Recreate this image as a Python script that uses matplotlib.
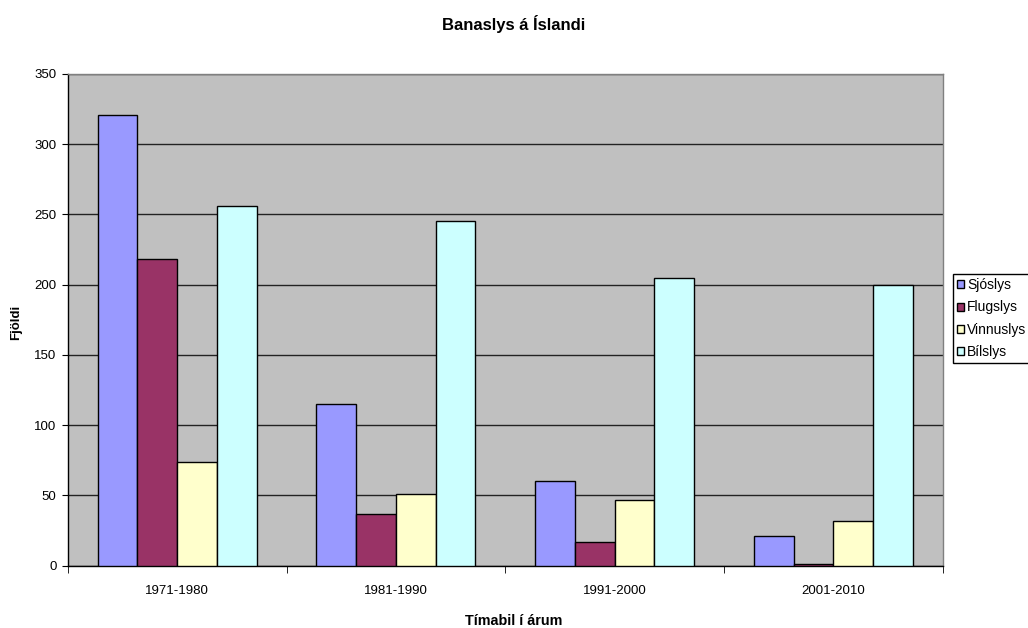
import numpy as np
import matplotlib
matplotlib.use("Agg")
import matplotlib.pyplot as plt

plt.rcParams['font.family'] = ['Liberation Sans', 'DejaVu Sans']

periods = ["1971-1980", "1981-1990", "1991-2000", "2001-2010"]
series_names = ["Sjóslys", "Flugslys", "Vinnuslys", "Bílslys"]
sjoslys = [321, 115, 60, 21]
flugslys = [218, 37, 17, 1]
vinnuslys = [74, 51, 47, 32]
bilslys = [256, 245, 205, 200]
colors = ["#9999FF", "#993366", "#FFFFCC", "#CCFFFF"]
y_ticks = [0, 50, 100, 150, 200, 250, 300, 350]

values = [sjoslys, flugslys, vinnuslys, bilslys]

fig = plt.figure(figsize=(10.28, 6.28), dpi=100)
ax = fig.add_axes([0.0659, 0.0992, 0.8512, 0.7830])
ax.set_facecolor("#C0C0C0")

n_groups = len(periods)
n_series = len(series_names)
bar_w = 1.0 / (n_series + 1.5)
x = np.arange(n_groups)

for i, (name, vals, col) in enumerate(zip(series_names, values, colors)):
    offs = (i - (n_series - 1) / 2) * bar_w
    ax.bar(x + offs, vals, width=bar_w, color=col, edgecolor="black",
           linewidth=1.0, label=name, zorder=3)

ax.set_xlim(-0.5, n_groups - 0.5)
ax.set_ylim(0, 350)
ax.set_yticks(y_ticks)
ax.yaxis.grid(True, color="#222222", linewidth=1.0, zorder=1)
ax.set_axisbelow(True)

# group labels at centres, tick marks at the group boundaries
ax.set_xticks(x)
ax.set_xticklabels(periods)
ax.tick_params(axis="x", which="major", length=0, pad=14, labelsize=9.5)
ax.set_xticks(np.arange(-0.5, n_groups, 1.0), minor=True)
ax.tick_params(axis="x", which="minor", length=5, direction="out", color="black")
ax.tick_params(axis="y", length=4, direction="out", labelsize=9.5, pad=4)

for side in ("left", "bottom"):
    ax.spines[side].set_color("black")
    ax.spines[side].set_linewidth(1.0)
for side in ("top", "right"):
    ax.spines[side].set_color("#808080")
    ax.spines[side].set_linewidth(1.0)

fig.text(0.5, 1 - 24 / 628, "Banaslys á Íslandi", ha="center", va="center",
         fontsize=12, fontweight="bold")
fig.text(0.5, 1 - 621 / 628, "Tímabil í árum", ha="center", va="center",
         fontsize=10.4, fontweight="bold")
fig.text(16 / 1028, 1 - 322 / 628, "Fjöldi", ha="center", va="center",
         rotation=90, fontsize=9.5, fontweight="bold")

leg = fig.legend(loc="upper left", bbox_to_anchor=(953 / 1028, 1 - 274 / 628),
                 borderaxespad=0,
                 fontsize=10, handlelength=0.5, handleheight=0.5,
                 handletextpad=0.2, labelspacing=0.6, borderpad=0.3,
                 fancybox=False, framealpha=1, edgecolor="black")
leg.get_frame().set_linewidth(1.0)

fig.savefig("out.png", dpi=100, facecolor="white")
